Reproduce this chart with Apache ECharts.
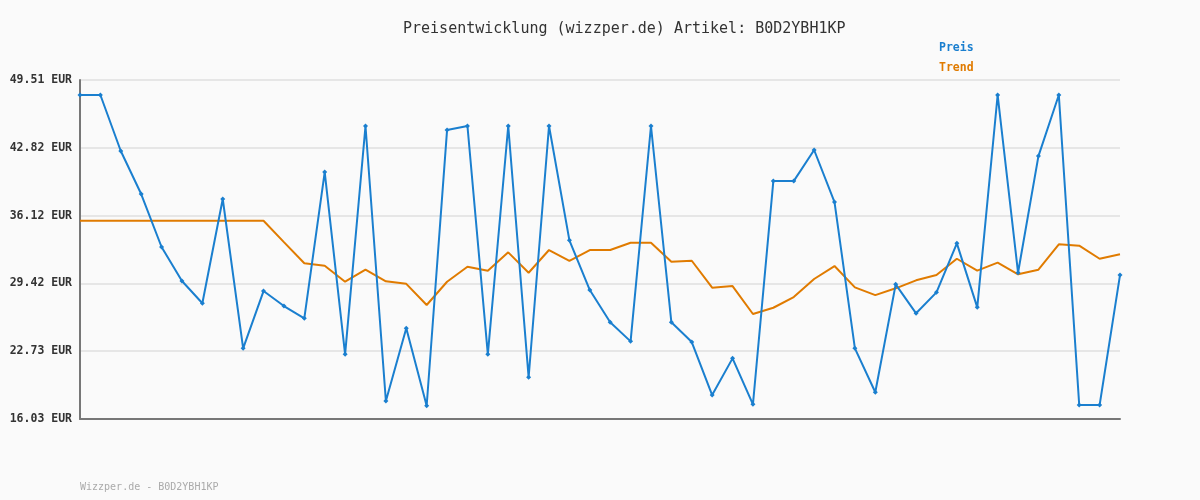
<!DOCTYPE html>
<html>
<head>
<meta charset="utf-8">
<script src="https://cdn.jsdelivr.net/npm/echarts@6/dist/echarts.min.js"></script>
<style>
  html, body { margin: 0; padding: 0; background: #fafafa; }
  #chart { width: 1200px; height: 500px; }
</style>
</head>
<body>
<div id="chart"></div>
<script>
// Preis (EUR)
var preis = [48.03, 48.03, 42.50, 38.25, 33.02, 29.66, 27.46, 37.76, 23.01, 28.67,
             27.19, 25.98, 40.42, 22.42, 44.97, 17.81, 25.00, 17.34, 44.57, 44.97,
             22.42, 44.97, 20.15, 44.97, 33.68, 28.77, 25.58, 23.70, 44.97, 25.58,
             23.63, 18.40, 22.02, 17.48, 39.53, 39.53, 42.60, 37.46, 23.01, 18.67,
             29.33, 26.47, 28.54, 33.38, 27.06, 48.03, 30.48, 42.00, 48.03, 17.41,
             17.41, 30.25];
var trend = [35.61, 35.61, 35.61, 35.61, 35.61, 35.61, 35.61, 35.61, 35.61, 35.61,
             33.50, 31.41, 31.17, 29.59, 30.78, 29.63, 29.38, 27.29, 29.59, 31.07,
             30.68, 32.49, 30.48, 32.72, 31.66, 32.72, 32.72, 33.44, 33.44, 31.56,
             31.66, 29.00, 29.16, 26.40, 27.02, 28.08, 29.86, 31.14, 29.03, 28.27,
             28.94, 29.73, 30.25, 31.86, 30.68, 31.47, 30.32, 30.78, 33.28, 33.15,
             31.86, 32.30];
var yTickLabels = ['16.03', '22.73', '29.42', '36.12', '42.82', '49.51'];
var yMin = 16.032, yMax = 49.514, yStep = 6.6964;

var blue = '#1a7fcf';
var orange = '#e07b00';
var mono = '"DejaVu Sans Mono", monospace';

var chart = echarts.init(document.getElementById('chart'));
var option = {
    backgroundColor: '#fafafa',
    animation: false,
    title: {
        text: 'Preisentwicklung (wizzper.de) Artikel: B0D2YBH1KP',
        left: 403,
        top: 22,
        padding: 0,
        textStyle: { fontFamily: mono, fontSize: 15, fontWeight: 'normal', color: '#333' }
    },
    legend: {
        orient: 'vertical',
        left: 934,
        top: 37,
        itemWidth: 0,
        itemHeight: 0,
        itemGap: 8,
        selectedMode: false,
        data: [
            { name: 'Preis', icon: 'rect', textStyle: { color: blue } },
            { name: 'Trend', icon: 'rect', textStyle: { color: orange } }
        ],
        textStyle: { fontFamily: mono, fontSize: 11.5, fontWeight: 'bold', padding: [0, 0, 0, -5] }
    },
    graphic: [{
        type: 'text',
        left: 80,
        top: 482,
        style: { text: 'Wizzper.de - B0D2YBH1KP', fontFamily: mono, fontSize: 10, fill: '#aaa' }
    }],
    grid: { left: 80, right: 80, top: 80, bottom: 81 },
    xAxis: {
        type: 'category',
        boundaryGap: false,
        axisLine: { lineStyle: { color: '#777', width: 2 } },
        axisTick: { show: false },
        axisLabel: { show: false },
        splitLine: { show: false }
    },
    yAxis: {
        type: 'value',
        min: yMin,
        max: yMax,
        interval: yStep,
        axisLine: { show: true, lineStyle: { color: '#777', width: 2 } },
        axisTick: { show: false },
        axisLabel: {
            margin: 8,
            fontFamily: mono,
            fontSize: 11.5,
            fontWeight: 'bold',
            color: '#333',
            formatter: function (v, i) { return yTickLabels[i] + ' EUR'; }
        },
        splitLine: { lineStyle: { color: '#e6e6e6', width: 2 } }
    },
    series: [
        {
            name: 'Preis',
            type: 'line',
            data: preis,
            color: blue,
            symbol: 'diamond',
            symbolSize: 5,
            lineStyle: { width: 2, color: blue },
            itemStyle: { color: blue },
            z: 3
        },
        {
            name: 'Trend',
            type: 'line',
            data: trend,
            color: orange,
            symbol: 'none',
            lineStyle: { width: 2, color: orange },
            z: 2
        }
    ]
};
chart.setOption(option);
</script>
</body>
</html>
